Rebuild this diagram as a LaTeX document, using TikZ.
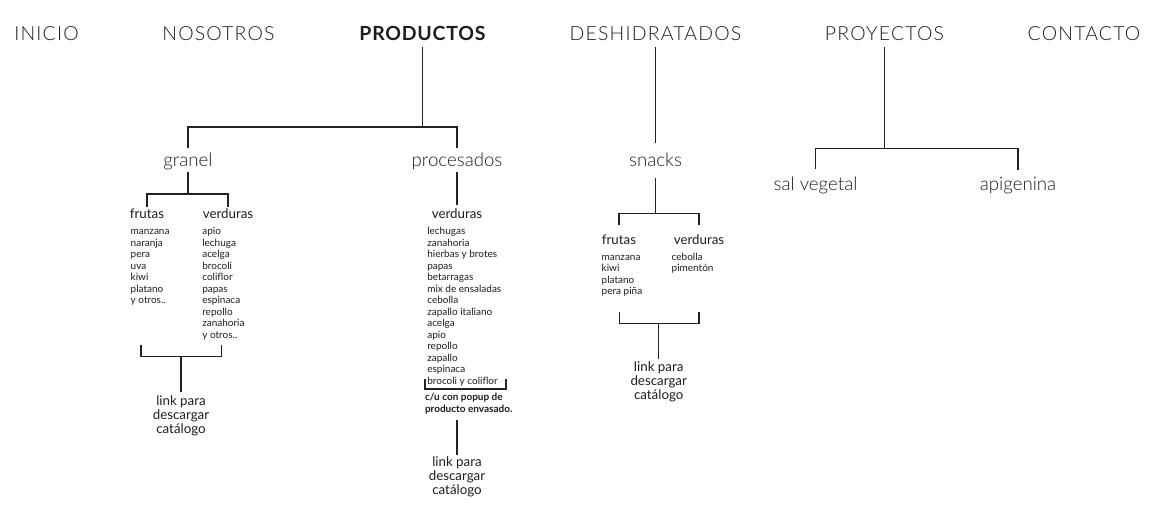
\documentclass[tikz,border=0pt]{standalone}
\usepackage{fontspec}
\setmainfont{Lato}[UprightFont=* Light, BoldFont=* Bold]
\newfontfamily\latoreg{Lato}
\definecolor{ink}{HTML}{1E1E1E}
\definecolor{wirec}{HTML}{222222}
\begin{document}
\begin{tikzpicture}[x=0.75pt,y=-0.75pt,
  navlabel/.style={anchor=base, inner sep=0, outer sep=0, text=ink, font=\fontsize{14.6}{17}\selectfont\addfontfeature{LetterSpace=6}},
  cat/.style={anchor=base, inner sep=0, outer sep=0, text=ink, font=\fontsize{14}{17}\selectfont},
  subcat/.style={anchor=base, inner sep=0, outer sep=0, text=ink, font=\latoreg\fontsize{10}{12}\selectfont},
  itemlist/.style={anchor=north west, inner sep=0, outer sep=0, align=left, text=ink, font=\latoreg\fontsize{7.5}{8.625}\selectfont},
  linktext/.style={anchor=north, inner sep=0, outer sep=0, align=center, text=ink, font=\latoreg\fontsize{10}{10.5}\selectfont},
  notetext/.style={anchor=north west, inner sep=0, outer sep=0, align=left, text=ink, font=\bfseries\fontsize{7.5}{9}\selectfont},
  wire/.style={draw=wirec, line width=0.9pt}]
\useasboundingbox[fill=white] (0,0) rectangle (1160,517);

% top navigation
\node[navlabel] (ini)  at (46.5,41)  {INICIO};
\node[navlabel] (nos)  at (218.5,41) {NOSOTROS};
\node[navlabel, font=\bfseries\fontsize{14.6}{17}\selectfont\addfontfeature{LetterSpace=4}] (prod) at (422.5,41) {PRODUCTOS};
\node[navlabel] (desh) at (655.5,41) {DESHIDRATADOS};
\node[navlabel] (proy) at (884.5,41) {PROYECTOS};
\node[navlabel] (cont) at (1084,41)  {CONTACTO};

% second level
\node[cat] (granel) at (188,166)    {granel};
\node[cat] (proc)   at (457,166)    {procesados};
\node[cat] (snacks) at (655.5,166)  {snacks};
\node[cat] (salv)   at (815.5,190)  {sal vegetal};
\node[cat] (apig)   at (1018,190)   {apigenina};

% third level
\node[subcat] (gfr) at (147,218) {frutas};
\node[subcat] (gve) at (228,218) {verduras};
\node[subcat] (pve) at (457,218) {verduras};
\node[subcat] (sfr) at (619,244) {frutas};
\node[subcat] (sve) at (699,244) {verduras};

% lists
\node[itemlist] (gfrl) at (130.7,226.5) {\strut manzana\\naranja\\pera\\uva\\kiwi\\platano\\y otros..};
\node[itemlist] (gvel) at (202.3,226.5) {\strut apio\\lechuga\\acelga\\brocoli\\coliflor\\papas\\espinaca\\repollo\\zanahoria\\y otros..};
\node[itemlist] (pvel) at (427.3,226.5) {\strut lechugas\\zanahoria\\hierbas y brotes\\papas\\betarragas\\mix de ensaladas\\cebolla\\zapallo italiano\\acelga\\apio\\repollo\\zapallo\\espinaca\\brocoli y coliflor};
\node[itemlist] (sfrl) at (601.7,252) {\strut manzana\\kiwi\\platano\\pera piña};
\node[itemlist] (svel) at (671.7,252) {\strut cebolla\\pimentón};

\node[notetext] (cu) at (425,392.1) {\strut c/u con popup de\\producto envasado.};

% links
\node[linktext] (glink) at (181,395.3)   {link para\\descargar\\catálogo};
\node[linktext] (plink) at (457,456.3)   {link para\\descargar\\catálogo};
\node[linktext] (slink) at (658.7,361.3) {link para\\descargar\\catálogo};

% junction coordinates
\coordinate (pj) at (422.5,127);
\coordinate (gj) at (188,194);
\coordinate (sj) at (655.5,213.3);
\coordinate (yj) at (884.5,148.3);
\coordinate (gb1) at (141,345);
\coordinate (gb2) at (141,356.5);
\coordinate (gb3) at (221.7,356.5);
\coordinate (gb4) at (221.7,345);
\coordinate (gbm) at (181,356.5);
\coordinate (pb1) at (425,379);
\coordinate (pb2) at (425,389);
\coordinate (pb3) at (506,389);
\coordinate (pb4) at (506,379);
\coordinate (sb1) at (619.3,311.7);
\coordinate (sb2) at (619.3,323.3);
\coordinate (sb3) at (699,323.3);
\coordinate (sb4) at (699,311.7);
\coordinate (sbm) at (658.7,323.3);

% PRODUCTOS
\draw[wire, shorten <=4.5pt] (prod.south) -- (pj);
\draw[wire, shorten <=3.3pt, shorten >=3.3pt] (granel.north) |- (pj) -| (proc.north);
% granel
\draw[wire, shorten <=1.7pt] (granel.south) -- (gj);
\draw[wire, shorten <=1pt, shorten >=1pt] (gfr.north) |- (gj) -| (gve.north);
\draw[wire] (gb1) -- (gb2) -- (gb3) -- (gb4);
\draw[wire, shorten >=2.5pt] (gbm) -- (glink.north);
% procesados
\draw[wire, shorten <=1.7pt, shorten >=2.5pt] (proc.south) -- (pve.north);
\draw[wire] (pb1) -- (pb2) -- (pb3) -- (pb4);
\draw[wire, shorten <=4pt, shorten >=1pt] (cu.south -| plink.north) -- (plink.north);
% DESHIDRATADOS
\draw[wire, shorten <=4.5pt, shorten >=7pt] (desh.south) -- (snacks.north);
\draw[wire, shorten <=9pt] (snacks.south) -- (sj);
\draw[wire, shorten <=7pt, shorten >=7pt] (sfr.north) |- (sj) -| (sve.north);
\draw[wire] (sb1) -- (sb2) -- (sb3) -- (sb4);
\draw[wire, shorten >=2pt] (sbm) -- (slink.north);
% PROYECTOS
\draw[wire, shorten <=4.5pt] (proy.south) -- (yj);
\draw[wire, shorten <=5.3pt, shorten >=5.3pt] (salv.north) |- (yj) -| (apig.north);
\end{tikzpicture}
\end{document}
